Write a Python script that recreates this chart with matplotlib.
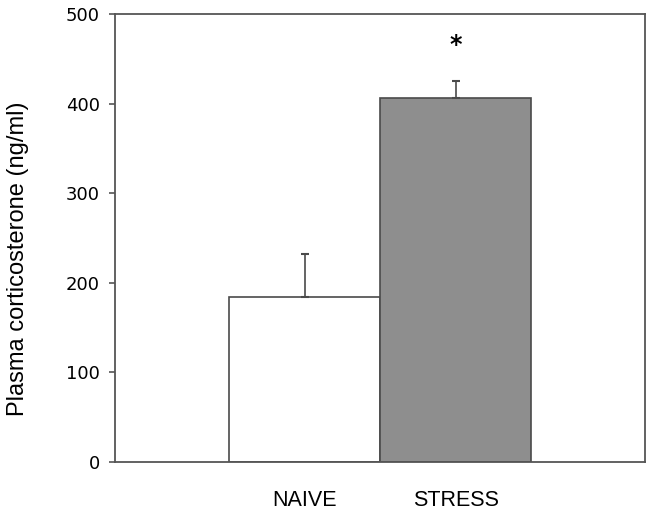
import matplotlib.pyplot as plt
import numpy as np

groups = ["NAIVE", "STRESS"]
means = [184, 406]
sems = [48, 19]
bar_colors = ["white", "#8e8e8e"]
sig_marks = ["", "*"]
sig_y = [0, 465]

fig = plt.figure(figsize=(6.53, 5.11), dpi=100)
ax = fig.add_axes([115 / 653, 49 / 511, 530 / 653, 448 / 511])

x = np.arange(len(groups))
ax.bar(x, means, width=1.0, color=bar_colors, edgecolor="#4a4a4a",
       linewidth=1.2, zorder=2)
ax.errorbar(x, means, yerr=[np.zeros(len(sems)), sems], fmt="none",
            ecolor="#4a4a4a", elinewidth=1.2, capsize=3, capthick=1.5, zorder=3)

for xi, mark, yy in zip(x, sig_marks, sig_y):
    if mark:
        ax.text(xi, yy, mark, ha="center", va="center", fontsize=17,
                fontweight="bold", family="DejaVu Sans")

ax.set_xlim(-1.258, 2.252)
ax.set_ylim(0, 500)
ax.set_yticks(np.arange(0, 501, 100))
ax.set_xticks(x)
ax.set_xticklabels(groups, fontsize=15.5, family="Liberation Sans")
ax.tick_params(axis="x", length=0, pad=20)
ax.tick_params(axis="y", direction="out", length=4, width=1.2,
               color="#555555", pad=7, labelsize=13)
for lab in ax.get_yticklabels():
    lab.set_family("DejaVu Sans")

for side in ["left", "right", "top", "bottom"]:
    ax.spines[side].set_color("#555555")
    ax.spines[side].set_linewidth(1.3)

fig.text(18 / 653, 1 - 259 / 511, "Plasma corticosterone (ng/ml)",
         rotation=90, ha="center", va="center", fontsize=17,
         family="Liberation Sans")

fig.savefig("out.png", dpi=100)
